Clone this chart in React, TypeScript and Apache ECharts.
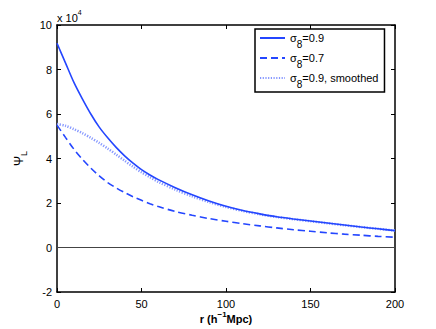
import React, { useEffect, useRef } from 'react';
import * as echarts from 'echarts';

// r in h^-1 Mpc
const rValues = [0, 5, 10, 15, 20, 25, 30, 35, 40, 45, 50, 55, 60, 70, 80, 90, 100, 110, 120, 130, 140, 150, 160, 170, 180, 190, 200];
// Psi_L in units of 1e4
const psiSigma09 = [9.18, 8.3, 7.42, 6.68, 6.0, 5.41, 4.93, 4.5, 4.12, 3.79, 3.5, 3.26, 3.05, 2.69, 2.37, 2.09, 1.85, 1.66, 1.51, 1.38, 1.28, 1.19, 1.1, 1.01, 0.92, 0.84, 0.76];
const psiSigma07 = [5.5, 4.95, 4.42, 3.97, 3.57, 3.22, 2.92, 2.68, 2.47, 2.28, 2.12, 1.97, 1.84, 1.62, 1.45, 1.3, 1.18, 1.07, 0.97, 0.88, 0.8, 0.73, 0.66, 0.6, 0.55, 0.5, 0.46];
const psiSmoothed = [5.55, 5.47, 5.32, 5.14, 4.93, 4.7, 4.45, 4.18, 3.9, 3.63, 3.38, 3.16, 2.95, 2.6, 2.3, 2.04, 1.82, 1.64, 1.49, 1.37, 1.27, 1.18, 1.09, 1.0, 0.92, 0.84, 0.76];
const zeroLine = [0, 0];
const zeroLineR = [0, 200];

const seriesNames = ['σ8=0.9', 'σ8=0.7', 'σ8=0.9, smoothed'];
const legendLabels: Record<string, string> = {
  'σ8=0.9': '{s|σ}{b|8}{s|=0.9}',
  'σ8=0.7': '{s|σ}{b|8}{s|=0.7}',
  'σ8=0.9, smoothed': '{s|σ}{b|8}{s|=0.9, smoothed}',
};

export default function App() {
  const ref = useRef<HTMLDivElement>(null);
  useEffect(() => {
    const chart = echarts.init(ref.current!, undefined, { renderer: 'svg' });
    const font = '"Liberation Sans", Arial, Helvetica, sans-serif';
    const blue = '#2446ff';
    const light = '#8597ff';
    const pair = (ys: number[]) => rValues.map((r, i) => [r, ys[i]]);
    const axisLine = { show: true, onZero: false, lineStyle: { color: '#000', width: 1.5 } };
    const axisTick = { show: true, inside: true, length: 4, lineStyle: { color: '#000', width: 1 } };
    chart.setOption({
      animation: false,
      backgroundColor: '#fff',
      grid: { left: 57, right: 41, top: 25, bottom: 37, containLabel: false, outerBoundsMode: 'none' },
      xAxis: [
        {
          type: 'value', min: 0, max: 200, interval: 50, position: 'bottom',
          axisLine, axisTick,
          axisLabel: { color: '#000', fontSize: 11, fontFamily: font, margin: 6 },
          splitLine: { show: false },
          name: '{a|r (h}{p|−1}{a|Mpc)}',
          nameLocation: 'middle', nameGap: 18, nameMoveOverlap: false,
          nameTextStyle: {
            rich: {
              a: { fontSize: 11, fontWeight: 'bold', fontFamily: font, color: '#000', lineHeight: 14, verticalAlign: 'bottom' },
              p: { fontSize: 8, fontWeight: 'bold', fontFamily: font, color: '#000', lineHeight: 8, verticalAlign: 'top' },
            },
          },
        },
        {
          type: 'value', min: 0, max: 200, interval: 50, position: 'top',
          axisLine, axisTick, axisLabel: { show: false }, splitLine: { show: false },
        },
      ],
      yAxis: [
        {
          type: 'value', min: -2, max: 10, interval: 2, position: 'left',
          axisLine, axisTick,
          axisLabel: { color: '#000', fontSize: 11, fontFamily: font, margin: 5 },
          splitLine: { show: false },
          name: '{a|Ψ}{b|L}',
          nameLocation: 'middle', nameGap: 25, nameRotate: 90,
          nameTextStyle: {
            rich: {
              a: { fontSize: 12, fontFamily: font, color: '#000', lineHeight: 12, verticalAlign: 'top' },
              b: { fontSize: 9, fontFamily: font, color: '#000', lineHeight: 9, padding: [7, 0, 0, 0], verticalAlign: 'top' },
            },
          },
        },
        {
          type: 'value', min: -2, max: 10, interval: 2, position: 'right',
          axisLine, axisTick, axisLabel: { show: false }, splitLine: { show: false },
        },
      ],
      legend: {
        data: seriesNames,
        orient: 'vertical',
        left: 255, top: 29,
        itemWidth: 25, itemHeight: 10, itemGap: 3,
        padding: [3, 6, 3, 4],
        backgroundColor: '#fff', borderColor: '#000', borderWidth: 1.5, borderRadius: 0,
        itemStyle: { opacity: 0 },
        formatter: (name: string) => legendLabels[name] || name,
        textStyle: {
          color: '#000', fontFamily: font, fontSize: 11,
          rich: {
            s: { fontSize: 11, fontFamily: font, color: '#000', lineHeight: 12, verticalAlign: 'top' },
            b: { fontSize: 10, fontFamily: font, color: '#000', lineHeight: 10, padding: [7, 0, 0, 0], verticalAlign: 'top' },
          },
        },
      },
      graphic: [
        {
          type: 'text', left: 57, top: 9,
          style: {
            text: '{a|x 10}{s|4}',
            rich: {
              a: { fontSize: 11, fontFamily: font, fill: '#000', lineHeight: 14, verticalAlign: 'bottom' },
              s: { fontSize: 7, fontFamily: font, fill: '#000', lineHeight: 9, verticalAlign: 'top' },
            },
          },
        },
      ],
      series: [
        {
          name: 'zero', type: 'line', data: zeroLineR.map((r, i) => [r, zeroLine[i]]),
          symbol: 'none', silent: true, z: 1,
          lineStyle: { color: '#444', width: 1 },
        },
        {
          name: seriesNames[0], type: 'line', data: pair(psiSigma09), smooth: 0.3,
          symbol: 'none', showSymbol: false, z: 3,
          itemStyle: { color: blue },
          lineStyle: { color: blue, width: 1.6, type: 'solid' },
        },
        {
          name: seriesNames[1], type: 'line', data: pair(psiSigma07), smooth: 0.3,
          symbol: 'none', showSymbol: false, z: 3,
          itemStyle: { color: blue },
          lineStyle: { color: blue, width: 1.6, type: [7, 4] },
        },
        {
          name: seriesNames[2], type: 'line', data: pair(psiSmoothed), smooth: 0.3,
          symbol: 'none', showSymbol: false, z: 2,
          itemStyle: { color: light },
          lineStyle: { color: light, width: 2.5, type: [1.2, 1.5] },
        },
      ],
    });
    return () => chart.dispose();
  }, []);
  return <div ref={ref} style={{ position: 'fixed', left: 0, top: 0, width: 436, height: 329 }} />;
}
